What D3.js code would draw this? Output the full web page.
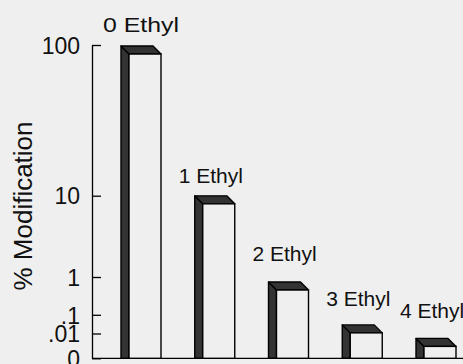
<!DOCTYPE html>
<html><head><meta charset="utf-8">
<script src="https://cdn.jsdelivr.net/npm/d3@7"></script>
<style>body{margin:0;background:#efefef;} svg{display:block}</style>
</head><body>
<script>
// ---- data ----
const categories = ["0 Ethyl", "1 Ethyl", "2 Ethyl", "3 Ethyl", "4 Ethyl"];
const values = [94.6, 9.1, 0.69, 0.013, 0.0048];
const tickValues = [0, 0.01, 0.1, 1, 10, 100];
const tickLabels = ["0", ".01", ".1", "1", "10", "100"];
const yTitle = "% Modification";

// ---- layout ----
const W = 463, H = 364;
const FONT = "'Liberation Sans', Arial, Helvetica, sans-serif";
const labelGap = [14, 13, 21, 19, 20];
const depth = 8, frontW = 32;

const svg = d3.select("body").append("svg").attr("width", W).attr("height", H);
svg.append("rect").attr("width", W).attr("height", H).attr("fill", "#efefef");

const y = d3.scaleLinear().domain(tickValues).range([358.3, 333.5, 314.8, 277, 195.7, 45]);
const x = d3.scaleBand().domain(categories).range([92, 92 + 5 * 73.75]);
const axisX = 92;

// y axis
const yAxis = d3.axisLeft(y).tickValues(tickValues)
  .tickFormat((d, i) => tickLabels[i])
  .tickSizeInner(-9).tickSizeOuter(0).tickPadding(12);
const gy = svg.append("g").attr("transform", `translate(${axisX},0)`).call(yAxis);
gy.select(".domain").attr("stroke", "#000").attr("stroke-width", 1.3);
gy.selectAll(".tick line").attr("stroke", "#000").attr("stroke-width", 1.3);
gy.selectAll(".tick text").attr("font-family", FONT).attr("font-size", 23)
  .attr("fill", "#111").attr("dy", "0.36em");

// baseline
svg.append("line").attr("x1", axisX).attr("x2", W).attr("y1", y(0)).attr("y2", y(0))
  .attr("stroke", "#000").attr("stroke-width", 1.3);

// bars
const base = y(0);
const g = svg.append("g");
categories.forEach((c, i) => {
  const bx = x(c) + 29;
  const top = y(values[i]);
  // left side (dark)
  g.append("polygon")
    .attr("points", [[bx, top - depth], [bx + depth, top], [bx + depth, base], [bx, base]].map(p => p.join(",")).join(" "))
    .attr("fill", "#333").attr("stroke", "#000").attr("stroke-width", 1.4).attr("stroke-linejoin", "round");
  // top face (dark)
  g.append("polygon")
    .attr("points", [[bx, top - depth], [bx + frontW, top - depth], [bx + frontW + depth, top], [bx + depth, top]].map(p => p.join(",")).join(" "))
    .attr("fill", "#333").attr("stroke", "#000").attr("stroke-width", 1.4).attr("stroke-linejoin", "round");
  // front face
  g.append("rect").attr("x", bx + depth).attr("y", top).attr("width", frontW).attr("height", base - top)
    .attr("fill", "#efefef").attr("stroke", "#000").attr("stroke-width", 1.4);
  // label
  const t = svg.append("text").attr("x", bx + frontW / 2).attr("y", top - depth - labelGap[i])
    .attr("text-anchor", "middle").attr("font-family", FONT)
    .attr("font-size", 21).attr("fill", "#111").text(c);
  if (i === 0) t.attr("x", bx + 20).attr("textLength", 76).attr("lengthAdjust", "spacingAndGlyphs");
});

// y title
svg.append("text").attr("transform", `translate(31.7,206) rotate(-90)`)
  .attr("text-anchor", "middle").attr("font-family", FONT).attr("font-size", 26)
  .attr("fill", "#111").text(yTitle);
</script>
</body></html>
